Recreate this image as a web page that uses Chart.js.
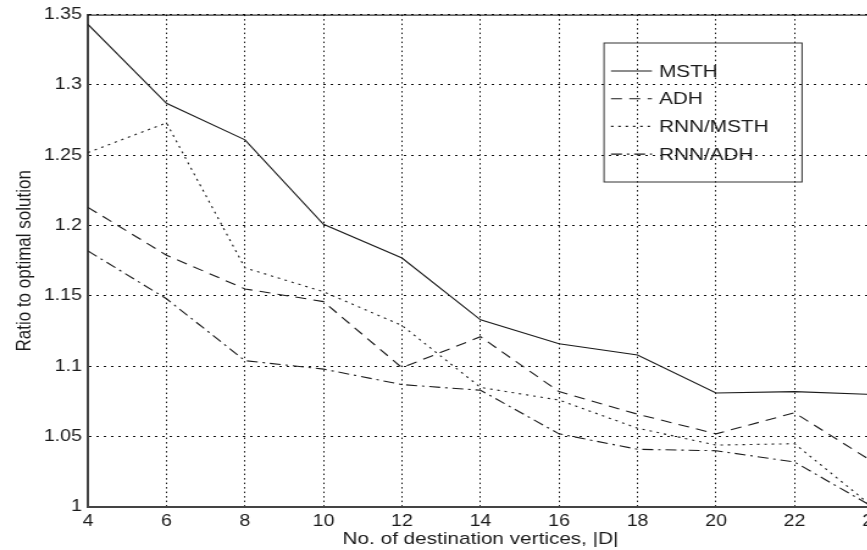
<!DOCTYPE html>
<html>
<head>
<meta charset="utf-8">
<script src="https://cdn.jsdelivr.net/npm/chart.js@4/dist/chart.umd.min.js"></script>
<style>
  html, body { margin: 0; padding: 0; background: #fff; overflow: hidden; }
  #wrap { width: 740px; height: 550px; transform: scaleX(1.22); transform-origin: 0 0; }
  canvas { display: block; }
</style>
</head>
<body>
<div id="wrap"><canvas id="c" width="740" height="550"></canvas></div>
<script>
// Number of destination vertices |D|
const destinationSizes = [4, 6, 8, 10, 12, 14, 16, 18, 20, 22, 24];

// Ratio of each heuristic's cost to the optimal solution
const msthRatio    = [1.343, 1.287, 1.261, 1.201, 1.177, 1.133, 1.116, 1.108, 1.081, 1.082, 1.080];
const adhRatio     = [1.213, 1.179, 1.155, 1.146, 1.099, 1.121, 1.082, 1.066, 1.052, 1.067, 1.032];
const rnnMsthRatio = [1.252, 1.273, 1.170, 1.153, 1.129, 1.085, 1.076, 1.056, 1.044, 1.045, 1.000];
const rnnAdhRatio  = [1.182, 1.148, 1.104, 1.098, 1.087, 1.083, 1.052, 1.041, 1.040, 1.032, 1.000];

const seriesNames = ['MSTH', 'ADH', 'RNN/MSTH', 'RNN/ADH'];
const yTickLabels = ['1', '1.05', '1.1', '1.15', '1.2', '1.25', '1.3', '1.35'];
const xTickLabels = ['4', '6', '8', '10', '12', '14', '16', '18', '20', '22', '24'];

const FONT = '"Liberation Sans", Arial, Helvetica, sans-serif';
const INK = '#1a1a1a';

function series(label, values, dash) {
  return {
    label,
    data: destinationSizes.map((x, i) => ({ x, y: values[i] })),
    borderColor: INK,
    borderWidth: 1.1,
    borderDash: dash,
    pointRadius: 0,
    fill: false,
    tension: 0
  };
}

// Boxed key and the top/right frame of the axes
const frameAndKey = {
  id: 'frameAndKey',
  afterDatasetsDraw(chart, args, o) {
    const { ctx, chartArea: a } = chart;
    ctx.save();
    ctx.strokeStyle = '#000';
    ctx.lineWidth = 1;
    ctx.beginPath();
    ctx.moveTo(a.left, a.top + 0.5);
    ctx.lineTo(a.right, a.top + 0.5);
    ctx.lineTo(a.right, a.bottom);
    ctx.stroke();

    ctx.strokeStyle = '#333';
    ctx.strokeRect(o.left, o.top, o.width, o.height);
    ctx.font = '17px ' + FONT;
    ctx.textBaseline = 'middle';
    ctx.textAlign = 'left';
    chart.data.datasets.forEach((ds, i) => {
      const y = o.top + o.firstRow + i * o.rowGap;
      ctx.setLineDash(ds.borderDash || []);
      ctx.strokeStyle = ds.borderColor;
      ctx.lineWidth = ds.borderWidth;
      ctx.beginPath();
      ctx.moveTo(o.left + o.sampleFrom, y);
      ctx.lineTo(o.left + o.sampleTo, y);
      ctx.stroke();
      ctx.setLineDash([]);
      ctx.fillStyle = INK;
      ctx.fillText(ds.label, o.left + o.textX, y + 1);
    });
    ctx.restore();
  }
};

new Chart(document.getElementById('c'), {
  type: 'line',
  data: {
    datasets: [
      series(seriesNames[0], msthRatio, []),
      series(seriesNames[1], adhRatio, [9, 6]),
      series(seriesNames[2], rnnMsthRatio, [2, 4]),
      series(seriesNames[3], rnnAdhRatio, [9, 4, 2, 4])
    ]
  },
  options: {
    responsive: false,
    devicePixelRatio: 1,
    animation: false,
    layout: { padding: { left: 0, top: 14, right: 24.4, bottom: 0 } },
    plugins: {
      legend: { display: false },
      tooltip: { enabled: false },
      frameAndKey: {
        left: 495.1, top: 43, width: 162.3, height: 139,
        firstRow: 28, rowGap: 27.7,
        sampleFrom: 5.7, sampleTo: 39.3, textX: 45.1
      }
    },
    scales: {
      x: {
        type: 'linear',
        min: 4, max: 24,
        afterFit(s) { s.height = 43; },
        afterBuildTicks(s) { s.ticks = destinationSizes.map(v => ({ value: v })); },
        ticks: {
          callback: (v) => xTickLabels[destinationSizes.indexOf(v)],
          font: { family: FONT, size: 16 },
          color: INK,
          padding: 5,
          maxRotation: 0,
          autoSkip: false
        },
        grid: { color: '#111', lineWidth: 1, drawTicks: false },
        border: { display: true, color: '#444', width: 2, dash: [1.5, 3] },
        title: {
          display: true,
          text: 'No. of destination vertices, |D|',
          font: { family: FONT, size: 17, lineHeight: 1.2 },
          color: INK,
          padding: { top: 0, bottom: 0 }
        }
      },
      y: {
        min: 1, max: 1.35,
        afterFit(s) { s.width = 72.1; },
        afterBuildTicks(s) { s.ticks = yTickLabels.map(t => ({ value: parseFloat(t) })); },
        ticks: {
          callback: (v, i) => yTickLabels[i],
          font: { family: FONT, size: 16 },
          color: INK,
          padding: 5
        },
        grid: { color: '#111', lineWidth: 1, drawTicks: false },
        border: { display: true, color: '#444', width: 2, dash: [2, 4] },
        title: {
          display: true,
          text: 'Ratio to optimal solution',
          font: { family: FONT, size: 17, lineHeight: 1.2 },
          color: INK,
          padding: { top: 10, bottom: 0 }
        }
      }
    }
  },
  plugins: [frameAndKey]
});
</script>
</body>
</html>
